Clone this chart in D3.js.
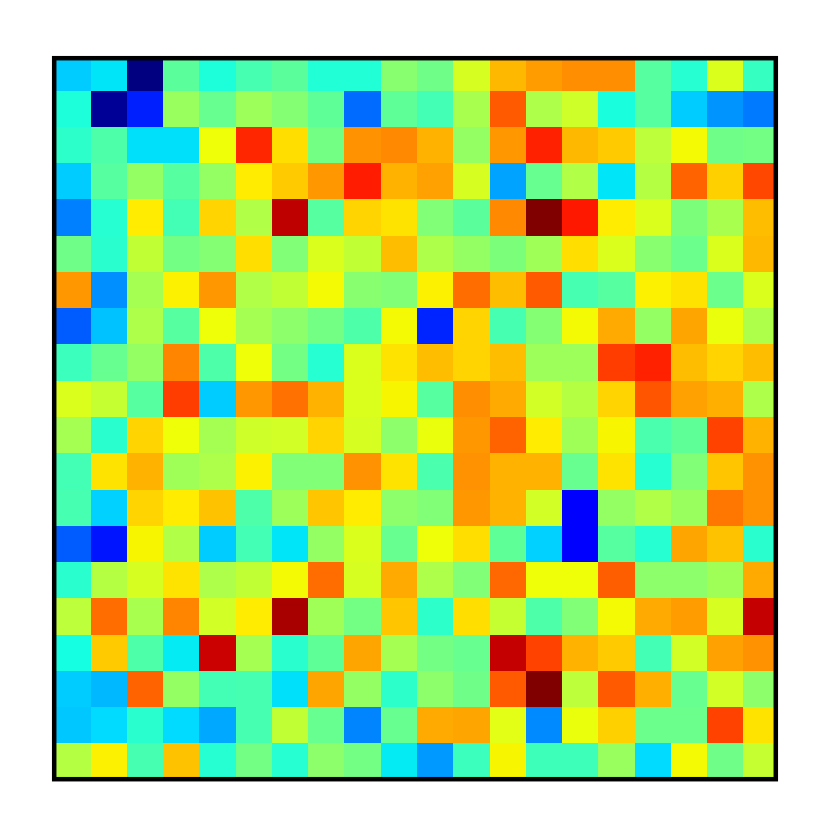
<!DOCTYPE html>
<html>
<head>
<meta charset="utf-8">
<script src="https://cdn.jsdelivr.net/npm/d3@7"></script>
<style>
  html, body { margin: 0; padding: 0; background: #ffffff; }
  svg { display: block; }
</style>
</head>
<body>
<svg id="chart" width="830" height="830"></svg>
<script>
// Row and column indices of the 20x20 grid
const rowIds = d3.range(20);
const colIds = d3.range(20);

// Cell values (0..1 on the jet colormap), top row first
const values = [
  [0.325,0.35,0.0,0.46,0.385,0.435,0.46,0.39,0.39,0.515,0.485,0.61,0.715,0.745,0.76,0.76,0.455,0.395,0.615,0.415],
  [0.385,0.02,0.155,0.535,0.475,0.54,0.51,0.465,0.23,0.465,0.43,0.555,0.815,0.56,0.6,0.38,0.455,0.325,0.27,0.245],
  [0.405,0.445,0.345,0.345,0.64,0.87,0.675,0.49,0.755,0.765,0.72,0.53,0.75,0.875,0.715,0.695,0.58,0.645,0.485,0.49],
  [0.325,0.455,0.53,0.455,0.53,0.66,0.695,0.75,0.88,0.72,0.74,0.61,0.285,0.475,0.565,0.35,0.57,0.805,0.69,0.835],
  [0.25,0.395,0.66,0.43,0.685,0.565,0.945,0.455,0.685,0.67,0.505,0.46,0.765,1.0,0.885,0.66,0.615,0.5,0.555,0.71],
  [0.485,0.4,0.585,0.49,0.51,0.675,0.505,0.615,0.585,0.71,0.56,0.53,0.5,0.545,0.675,0.615,0.515,0.48,0.615,0.715],
  [0.75,0.265,0.55,0.655,0.75,0.565,0.585,0.645,0.515,0.505,0.655,0.795,0.71,0.815,0.435,0.455,0.655,0.67,0.48,0.615],
  [0.215,0.315,0.56,0.455,0.64,0.55,0.52,0.49,0.445,0.645,0.16,0.685,0.435,0.51,0.645,0.73,0.53,0.735,0.635,0.56],
  [0.42,0.475,0.53,0.77,0.445,0.64,0.49,0.395,0.615,0.67,0.71,0.685,0.71,0.54,0.54,0.845,0.875,0.71,0.685,0.71],
  [0.615,0.59,0.455,0.845,0.325,0.75,0.79,0.72,0.615,0.65,0.455,0.76,0.73,0.605,0.57,0.685,0.82,0.74,0.725,0.56],
  [0.55,0.4,0.685,0.64,0.55,0.6,0.605,0.685,0.61,0.52,0.635,0.75,0.805,0.66,0.545,0.65,0.44,0.465,0.84,0.72],
  [0.43,0.67,0.72,0.545,0.56,0.655,0.505,0.505,0.755,0.67,0.44,0.755,0.72,0.72,0.475,0.67,0.395,0.505,0.70,0.755],
  [0.435,0.33,0.685,0.66,0.705,0.445,0.54,0.70,0.66,0.52,0.505,0.75,0.72,0.605,0.115,0.53,0.565,0.535,0.785,0.755],
  [0.215,0.145,0.65,0.565,0.325,0.43,0.35,0.53,0.615,0.475,0.64,0.675,0.465,0.33,0.115,0.455,0.395,0.735,0.705,0.4],
  [0.4,0.57,0.61,0.67,0.56,0.585,0.645,0.795,0.61,0.73,0.56,0.505,0.80,0.64,0.64,0.81,0.52,0.52,0.545,0.73],
  [0.58,0.795,0.555,0.77,0.605,0.66,0.965,0.545,0.49,0.70,0.405,0.675,0.59,0.445,0.505,0.645,0.73,0.745,0.61,0.94],
  [0.375,0.695,0.445,0.355,0.935,0.55,0.4,0.465,0.735,0.55,0.49,0.475,0.94,0.84,0.72,0.695,0.43,0.605,0.74,0.755],
  [0.325,0.305,0.805,0.53,0.43,0.435,0.345,0.735,0.53,0.405,0.52,0.485,0.815,1.0,0.58,0.815,0.725,0.475,0.605,0.52],
  [0.32,0.34,0.4,0.34,0.29,0.435,0.585,0.475,0.255,0.475,0.73,0.735,0.625,0.26,0.635,0.69,0.48,0.48,0.84,0.67],
  [0.57,0.655,0.435,0.705,0.395,0.49,0.395,0.52,0.49,0.355,0.275,0.42,0.65,0.425,0.425,0.535,0.34,0.645,0.485,0.59]
];

// jet colormap via piecewise-linear channel scales
const rS = d3.scaleLinear().domain([0,0.35,0.66,0.89,1]).range([0,0,1,1,0.5]).clamp(true);
const gS = d3.scaleLinear().domain([0,0.125,0.375,0.64,0.91,1]).range([0,0,1,1,0,0]).clamp(true);
const bS = d3.scaleLinear().domain([0,0.11,0.34,0.65,1]).range([0.5,1,1,0,0]).clamp(true);
const jet = t => d3.rgb(Math.round(rS(t)*255), Math.round(gS(t)*255), Math.round(bS(t)*255)).toString();
const color = d3.scaleSequential(jet).domain([0, 1]);

const svg = d3.select("#chart");

const gridX0 = 54.4, gridX1 = 779.6, gridY0 = 54.4, gridY1 = 779.6;
const frame = {x0: 54.2, x1: 775.8, y0: 58.2, y1: 779.2};

const x = d3.scaleBand().domain(colIds).range([gridX0, gridX1]).padding(0);
const y = d3.scaleBand().domain(rowIds).range([gridY0, gridY1]).padding(0);

svg.append("defs").append("clipPath").attr("id", "clip")
  .append("rect")
  .attr("x", frame.x0).attr("y", frame.y0)
  .attr("width", frame.x1 - frame.x0).attr("height", frame.y1 - frame.y0);

const cells = [];
rowIds.forEach(r => colIds.forEach(c => cells.push({r, c, v: values[r][c]})));

svg.append("g").attr("clip-path", "url(#clip)")
  .selectAll("rect")
  .data(cells)
  .join("rect")
  .attr("x", d => x(d.c))
  .attr("y", d => y(d.r))
  .attr("width", x.bandwidth() + 0.5)
  .attr("height", y.bandwidth() + 0.5)
  .attr("fill", d => color(d.v))
  .attr("shape-rendering", "crispEdges");

svg.append("rect")
  .attr("x", frame.x0).attr("y", frame.y0)
  .attr("width", frame.x1 - frame.x0).attr("height", frame.y1 - frame.y0)
  .attr("fill", "none")
  .attr("stroke", "#000")
  .attr("stroke-width", 4.5);
</script>
</body>
</html>
